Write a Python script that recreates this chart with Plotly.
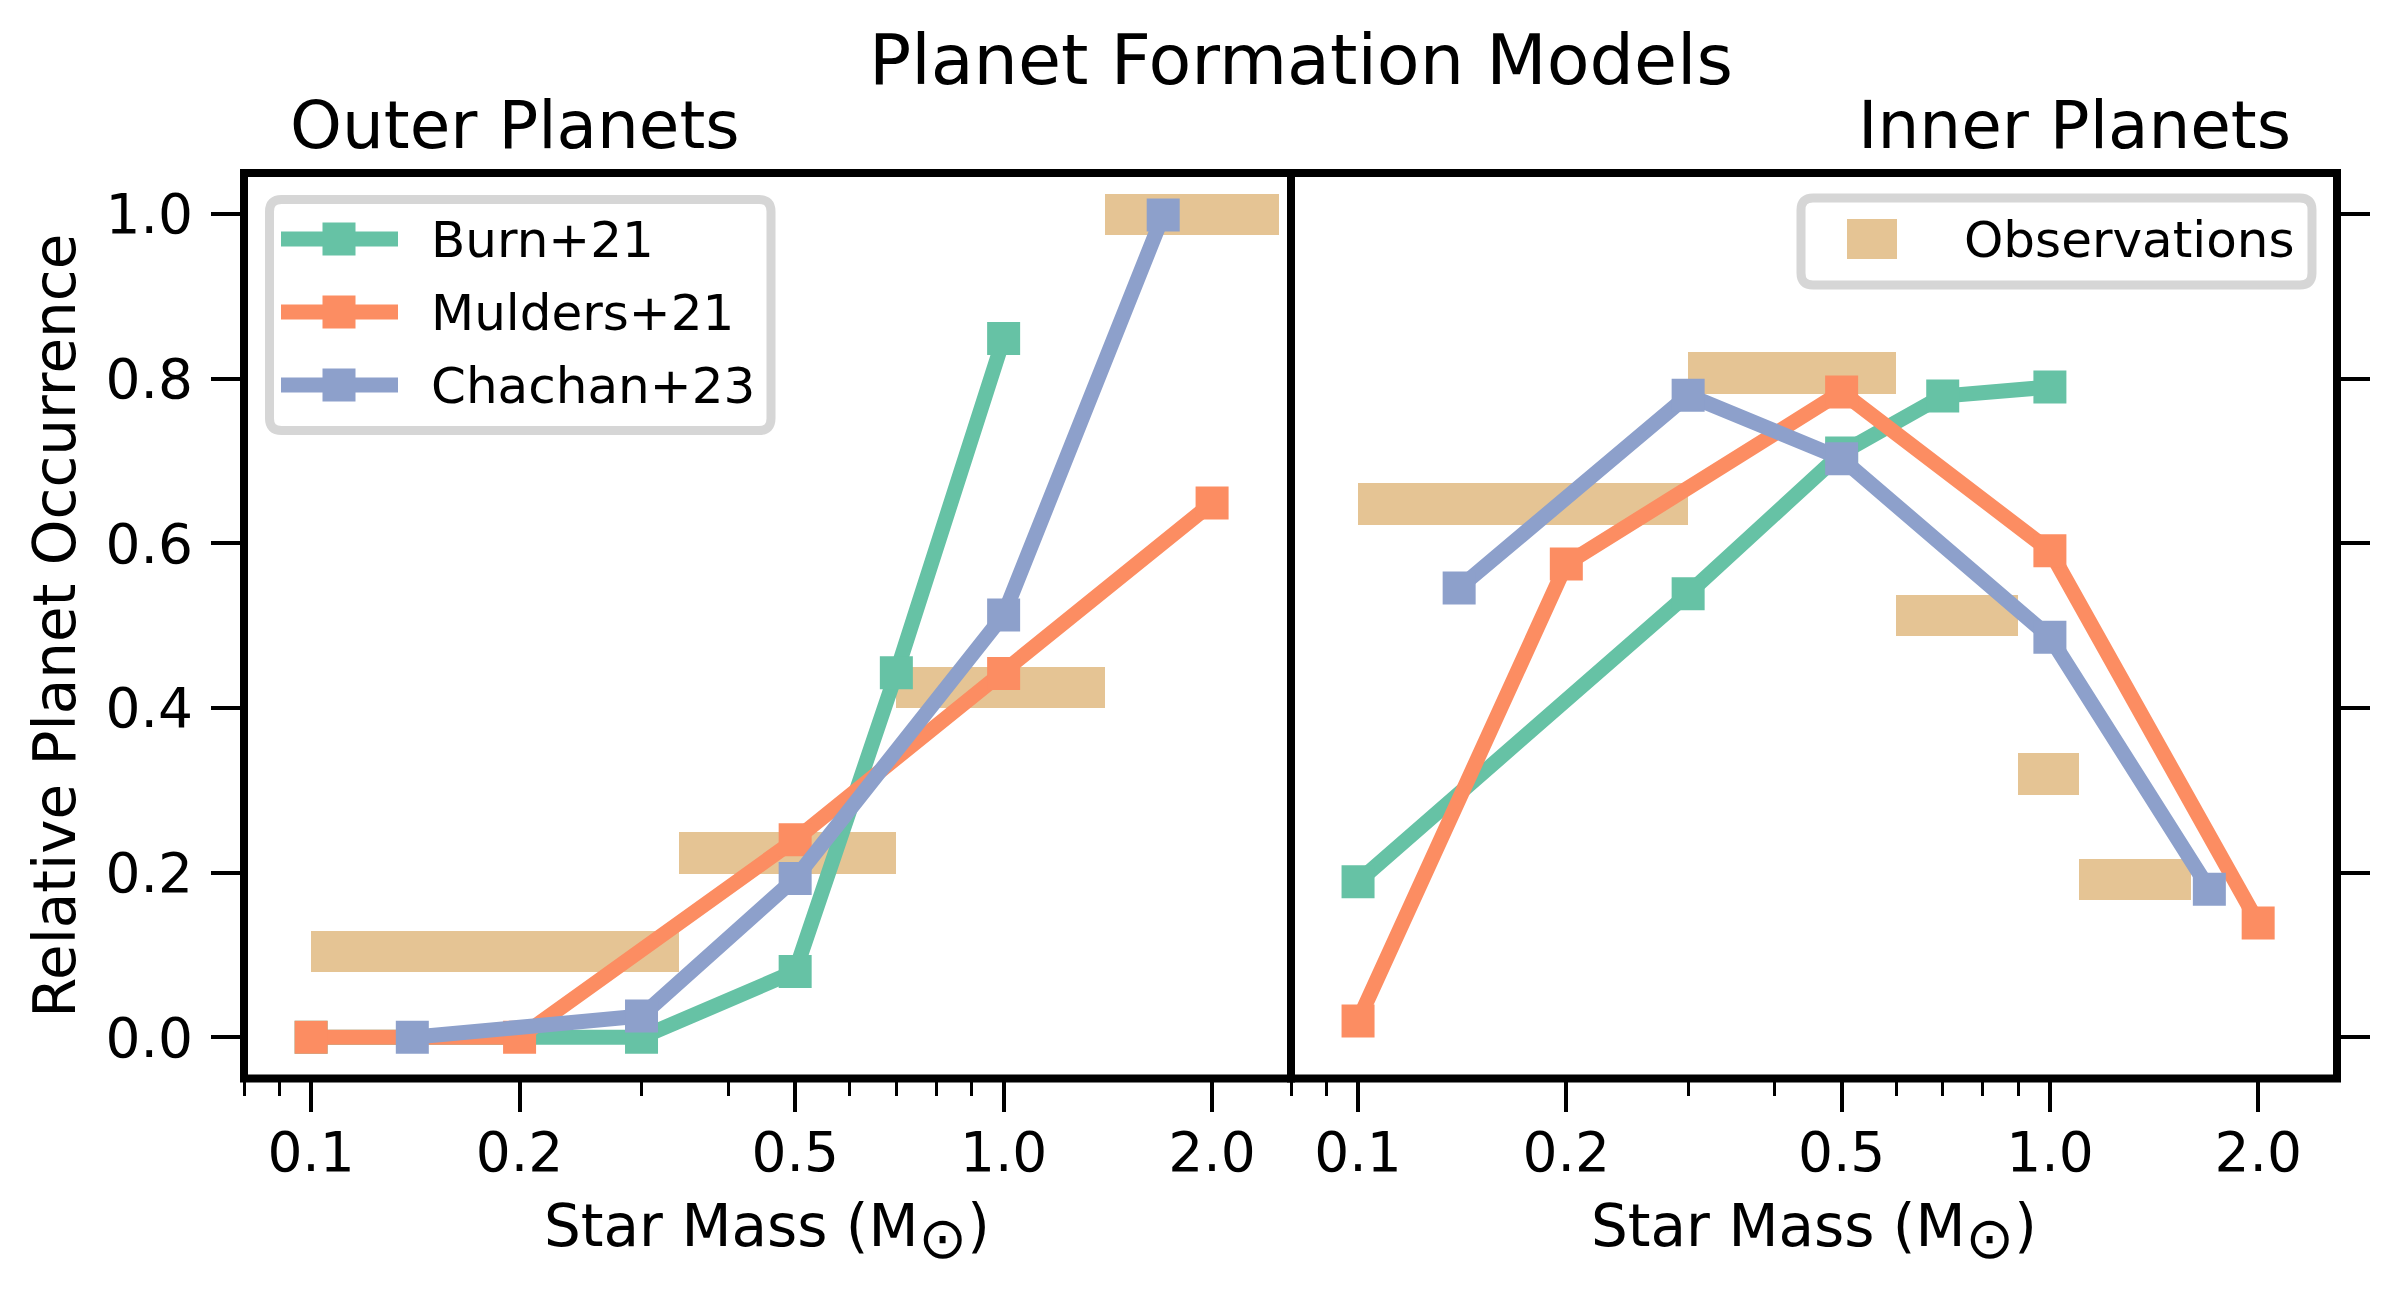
import math
import plotly.graph_objects as go

# ---------------- data ----------------
burn_x = [0.1, 0.3, 0.5, 0.7, 1.0]
burn_outer = [0.0, 0.0, 0.080, 0.443, 0.849]
burn_inner = [0.189, 0.539, 0.710, 0.779, 0.790]

mulders_x = [0.1, 0.2, 0.5, 1.0, 2.0]
mulders_outer = [0.0, 0.0, 0.240, 0.442, 0.649]
mulders_inner = [0.020, 0.575, 0.784, 0.591, 0.139]

chachan_x = [0.14, 0.3, 0.5, 1.0, 1.7]
chachan_outer = [0.0, 0.026, 0.193, 0.513, 0.999]
chachan_inner = [0.546, 0.780, 0.703, 0.486, 0.180]

obs_outer_edges = [0.1, 0.34, 0.7, 1.4, 2.5]
obs_outer_vals = [0.104, 0.224, 0.425, 1.0]
obs_inner_edges = [0.1, 0.3, 0.6, 0.9, 1.1, 1.6]
obs_inner_vals = [0.648, 0.807, 0.512, 0.320, 0.192]

series_names = ["Burn+21", "Mulders+21", "Chachan+23"]
obs_name = "Observations"
panel_titles = ["Outer Planets", "Inner Planets"]
main_title = "Planet Formation Models"
x_title = "Star Mass (M<sub><span style='font-size:58px'>⊙</span></sub>)"
y_title = "Relative Planet Occurrence"

x_major = [0.1, 0.2, 0.5, 1.0, 2.0]
x_major_text = ["0.1", "0.2", "0.5", "1.0", "2.0"]
x_minor = [0.08, 0.09, 0.3, 0.4, 0.6, 0.7, 0.8, 0.9]
y_ticks = [0.0, 0.2, 0.4, 0.6, 0.8, 1.0]
y_tick_text = ["0.0", "0.2", "0.4", "0.6", "0.8", "1.0"]

# ---------------- style ----------------
W, H = 2400, 1300
FONT = "DejaVu Sans"
GREEN, ORANGE, BLUE, TAN = "#66c2a5", "#fc8d62", "#8da0cb", "#e5c494"
COLORS = [GREEN, ORANGE, BLUE]
LW, MS = 15, 33
OBS_H = 0.05


def px(x):
    return x / W


def py(y):
    return 1 - y / H


fig = go.Figure()

# observation bars
for edges, vals, xa, ya in [(obs_outer_edges, obs_outer_vals, "x", "y"),
                            (obs_inner_edges, obs_inner_vals, "x2", "y2")]:
    lo = edges[:-1]
    widths = [b - a for a, b in zip(edges[:-1], edges[1:])]
    fig.add_trace(go.Bar(orientation="h", y=vals, x=widths, base=lo, width=OBS_H,
                         marker=dict(color=TAN, line=dict(width=0)),
                         xaxis=xa, yaxis=ya, showlegend=False, name=obs_name))

# model lines
panels = [("x", "y", [burn_outer, mulders_outer, chachan_outer]),
          ("x2", "y2", [burn_inner, mulders_inner, chachan_inner])]
xs = [burn_x, mulders_x, chachan_x]
for xa, ya, ys in panels:
    for name, xv, yv, c in zip(series_names, xs, ys, COLORS):
        fig.add_trace(go.Scatter(x=xv, y=yv, mode="lines+markers", name=name,
                                 line=dict(color=c, width=LW),
                                 marker=dict(symbol="square", size=MS, color=c,
                                             line=dict(width=0)),
                                 xaxis=xa, yaxis=ya, showlegend=False,
                                 cliponaxis=False))

tickfont = dict(family=FONT, size=55, color="black")
xcommon = dict(type="log", range=[math.log10(0.08), math.log10(2.6)],
               tickmode="array", tickvals=x_major, ticktext=x_major_text,
               ticks="outside", ticklen=32, tickwidth=4, tickcolor="black",
               ticklabelstandoff=-7,
               showgrid=False, zeroline=False, showline=False, tickfont=tickfont,
               minor=dict(tickmode="array", tickvals=x_minor, ticks="outside",
                          ticklen=16, tickwidth=3, tickcolor="black", showgrid=False))
ycommon = dict(range=[-0.05, 1.05], tickmode="array", tickvals=y_ticks,
               ticktext=y_tick_text, ticks="outside", ticklen=32, tickwidth=4,
               tickcolor="black", showgrid=False, zeroline=False, showline=False,
               tickfont=tickfont)

XL, XM, XR = 244, 1291, 2337
YT, YB = 173, 1078.5
fig.update_layout(
    xaxis=dict(domain=[px(XL), px(XM)], anchor="y", **xcommon),
    xaxis2=dict(domain=[px(XM), px(XR)], anchor="y2", **xcommon),
    yaxis=dict(domain=[py(YB), py(YT)], anchor="x", side="left",
               ticklabelstandoff=7, **ycommon),
    yaxis2=dict(domain=[py(YB), py(YT)], anchor="x2", side="right",
                showticklabels=False, **ycommon),
)

shapes = []
for xr, yr in [("x domain", "y domain"), ("x2 domain", "y2 domain")]:
    shapes.append(dict(type="rect", xref=xr, yref=yr, x0=0, x1=1, y0=0, y1=1,
                       line=dict(color="black", width=8),
                       fillcolor="rgba(0,0,0,0)", layer="above"))


def rrect_path(x0, y0, x1, y1, r):
    pts = []
    def P(x, y):
        return f"{px(x):.6f},{py(y):.6f}"
    pts.append("M" + P(x0 + r, y0))
    pts.append("L" + P(x1 - r, y0))
    pts.append("Q" + P(x1, y0) + " " + P(x1, y0 + r))
    pts.append("L" + P(x1, y1 - r))
    pts.append("Q" + P(x1, y1) + " " + P(x1 - r, y1))
    pts.append("L" + P(x0 + r, y1))
    pts.append("Q" + P(x0, y1) + " " + P(x0, y1 - r))
    pts.append("L" + P(x0, y0 + r))
    pts.append("Q" + P(x0, y0) + " " + P(x0 + r, y0))
    return " ".join(pts) + " Z"


LEG_EDGE = "#d6d6d6"
for box in [(269.5, 199.5, 771, 430.5), (1801, 198, 2312, 285)]:
    shapes.append(dict(type="path", xref="paper", yref="paper",
                       path=rrect_path(*box, 12),
                       line=dict(color=LEG_EDGE, width=9),
                       fillcolor="rgba(255,255,255,0.8)", layer="above"))

annotations = []
leg_rows = [239, 312, 385]
for name, c, yy in zip(series_names, COLORS, leg_rows):
    shapes.append(dict(type="line", xref="paper", yref="paper",
                       x0=px(281), x1=px(398), y0=py(yy), y1=py(yy),
                       line=dict(color=c, width=LW), layer="above"))
    shapes.append(dict(type="rect", xref="paper", yref="paper",
                       x0=px(339 - MS / 2), x1=px(339 + MS / 2),
                       y0=py(yy - MS / 2), y1=py(yy + MS / 2),
                       line=dict(width=0), fillcolor=c, layer="above"))
    annotations.append(dict(text=name, x=px(429), y=py(yy + 1), xref="paper",
                            yref="paper", xanchor="left", yanchor="middle",
                            showarrow=False, font=dict(family=FONT, size=50, color="black")))

shapes.append(dict(type="rect", xref="paper", yref="paper",
                   x0=px(1847), x1=px(1897), y0=py(219), y1=py(259),
                   line=dict(width=0), fillcolor=TAN, layer="above"))
annotations.append(dict(text=obs_name, x=px(1962), y=py(240), xref="paper",
                        yref="paper", xanchor="left", yanchor="middle",
                        showarrow=False, font=dict(family=FONT, size=50, color="black")))

# panel titles
annotations.append(dict(text=panel_titles[0], x=px(288), y=py(126), xref="paper",
                        yref="paper", xanchor="left", yanchor="middle", showarrow=False,
                        font=dict(family=FONT, size=66, color="black")))
annotations.append(dict(text=panel_titles[1], x=px(2293), y=py(126), xref="paper",
                        yref="paper", xanchor="right", yanchor="middle", showarrow=False,
                        font=dict(family=FONT, size=66, color="black")))

# axis titles
for cx in [(XL + XM) / 2, (XM + XR) / 2]:
    annotations.append(dict(text=x_title, x=px(cx), y=py(1190), xref="paper",
                            yref="paper", xanchor="center", yanchor="top",
                            showarrow=False,
                            font=dict(family=FONT, size=58, color="black")))
annotations.append(dict(text=y_title, x=px(55), y=py((YT + YB) / 2), xref="paper",
                        yref="paper", xanchor="center", yanchor="middle",
                        textangle=-90, showarrow=False,
                        font=dict(family=FONT, size=58, color="black")))

fig.update_layout(
    template="none",
    width=W, height=H,
    margin=dict(l=0, r=0, t=0, b=0),
    paper_bgcolor="white", plot_bgcolor="white",
    showlegend=False,
    title=dict(text=main_title, x=1301 / W, xanchor="center", xref="container",
               y=1 - 35 / H, yanchor="top", yref="container",
               font=dict(family=FONT, size=70, color="black")),
    shapes=shapes, annotations=annotations,
    font=dict(family=FONT, color="black"),
    bargap=0,
)

fig.write_html("out.html", config={"displayModeBar": False},
               post_script="document.body.style.margin='0px';document.body.style.overflow='hidden';")
